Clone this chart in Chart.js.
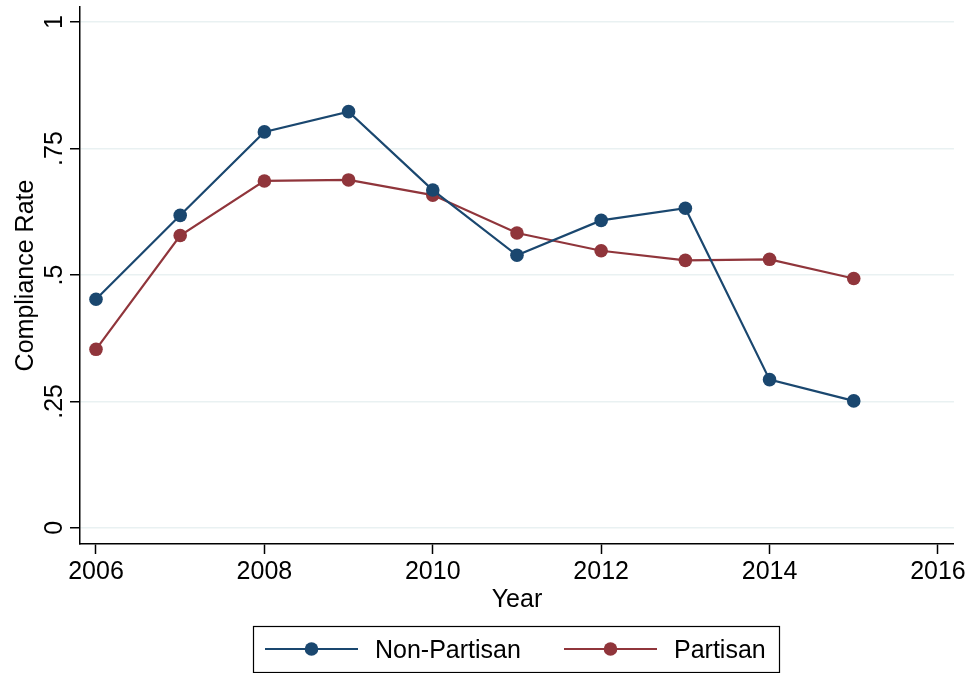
<!DOCTYPE html>
<html>
<head>
<meta charset="utf-8">
<script src="https://cdn.jsdelivr.net/npm/chart.js@4/dist/chart.umd.min.js"></script>
<style>
  html, body { margin: 0; padding: 0; background: #ffffff; }
  #wrap { width: 969px; height: 673px; }
</style>
</head>
<body>
<div id="wrap"><canvas id="c" width="969" height="673"></canvas></div>
<script>
// Survey years and compliance rates by group
const years = [2006, 2007, 2008, 2009, 2010, 2011, 2012, 2013, 2014, 2015];
const nonPartisan = [0.452, 0.618, 0.783, 0.823, 0.668, 0.539, 0.608, 0.632, 0.293, 0.251];
const partisan = [0.353, 0.578, 0.686, 0.688, 0.658, 0.583, 0.548, 0.529, 0.531, 0.493];

// Axis ticks
const xTicks = [2006, 2008, 2010, 2012, 2014, 2016];
const yTicks = [0, 0.25, 0.5, 0.75, 1];
const yTickLabels = ['0', '.25', '.5', '.75', '1'];

const seriesNames = ['Non-Partisan', 'Partisan'];
const NAVY = '#1a476f';
const MAROON = '#90353b';
const FONT = '"Liberation Sans", Arial, Helvetica, sans-serif';
const FONT_SIZE = 25;

const toPoints = (vals) => vals.map((v, i) => ({ x: years[i], y: v }));

// Draws rotated y tick labels, axis titles and the boxed legend
const decorations = {
  id: 'decorations',
  afterDraw(chart) {
    const ctx = chart.ctx;
    const area = chart.chartArea;
    const ys = chart.scales.y;
    ctx.save();
    ctx.fillStyle = '#000';
    ctx.font = FONT_SIZE + 'px ' + FONT;
    ctx.textAlign = 'center';
    ctx.textBaseline = 'alphabetic';
    yTicks.forEach((v, i) => {
      const py = ys.getPixelForValue(v);
      ctx.save();
      ctx.translate(area.left - 18, py);
      ctx.rotate(-Math.PI / 2);
      ctx.fillText(yTickLabels[i], 0, 0);
      ctx.restore();
    });

    // axis titles
    ctx.save();
    ctx.translate(33, (area.top + area.bottom) / 2);
    ctx.rotate(-Math.PI / 2);
    ctx.fillText('Compliance Rate', 0, 0);
    ctx.restore();
    ctx.fillText('Year', (area.left + area.right) / 2, 607);

    // legend
    const lx = 253, ly = 626, lw = 526, lh = 46;
    ctx.strokeStyle = '#000';
    ctx.lineWidth = 1.2;
    ctx.strokeRect(lx + 0.5, ly + 0.5, lw, lh);
    const cy = ly + lh / 2;
    const entries = [
      { x0: 265, x1: 358, tx: 375, color: NAVY, label: seriesNames[0] },
      { x0: 564, x1: 657, tx: 674, color: MAROON, label: seriesNames[1] }
    ];
    entries.forEach(e => {
      ctx.strokeStyle = e.color;
      ctx.lineWidth = 2.2;
      ctx.beginPath();
      ctx.moveTo(e.x0, cy);
      ctx.lineTo(e.x1, cy);
      ctx.stroke();
      ctx.fillStyle = e.color;
      ctx.beginPath();
      ctx.arc((e.x0 + e.x1) / 2, cy, 6.8, 0, Math.PI * 2);
      ctx.fill();
      ctx.fillStyle = '#000';
      ctx.textAlign = 'left';
      ctx.fillText(e.label, e.tx, 658);
    });
    ctx.restore();
  }
};

new Chart(document.getElementById('c'), {
  type: 'line',
  data: {
    datasets: [
      {
        label: seriesNames[0],
        data: toPoints(nonPartisan),
        borderColor: NAVY,
        backgroundColor: NAVY,
        borderWidth: 2.2,
        pointRadius: 6.8,
        pointBorderWidth: 0,
        pointHoverRadius: 6.8,
        tension: 0
      },
      {
        label: seriesNames[1],
        data: toPoints(partisan),
        borderColor: MAROON,
        backgroundColor: MAROON,
        borderWidth: 2.2,
        pointRadius: 6.8,
        pointBorderWidth: 0,
        pointHoverRadius: 6.8,
        tension: 0
      }
    ]
  },
  options: {
    responsive: false,
    devicePixelRatio: 1,
    animation: false,
    layout: { padding: { top: 7, right: 14, left: 0, bottom: 0 } },
    plugins: {
      legend: { display: false },
      tooltip: { enabled: false }
    },
    scales: {
      x: {
        type: 'linear',
        min: 2005.81,
        max: 2016.19,
        afterBuildTicks: (s) => { s.ticks = xTicks.map(v => ({ value: v })); },
        afterFit: (s) => { s.height = 129; },
        border: { color: '#000', width: 1.5 },
        grid: { drawOnChartArea: false, tickLength: 10, tickColor: '#000', tickWidth: 1.5 },
        ticks: {
          color: '#000',
          font: { family: FONT, size: FONT_SIZE },
          padding: 3,
          maxRotation: 0,
          autoSkip: false,
          callback: (v) => String(v)
        }
      },
      y: {
        type: 'linear',
        min: -0.032,
        max: 1.03,
        afterBuildTicks: (s) => { s.ticks = yTicks.map(v => ({ value: v })); },
        afterFit: (s) => { s.width = 80; },
        border: { color: '#000', width: 1.5 },
        grid: { color: '#e9f1f2', lineWidth: 1.5, tickLength: 10, tickColor: '#000', tickWidth: 1.5 },
        ticks: { color: 'rgba(0,0,0,0)', font: { family: FONT, size: 1 } }
      }
    }
  },
  plugins: [decorations]
});
</script>
</body>
</html>
